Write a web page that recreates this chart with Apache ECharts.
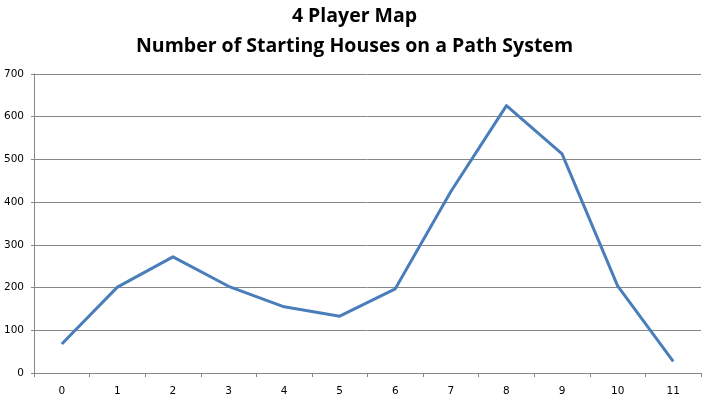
<!DOCTYPE html>
<html><head><meta charset="utf-8">
<script src="https://cdn.jsdelivr.net/npm/echarts@6/dist/echarts.min.js"></script>
<style>html,body{margin:0;padding:0;background:#fff}#c{width:709px;height:404px}</style>
</head><body><div id="c"></div>
<script>
const categories = ['0','1','2','3','4','5','6','7','8','9','10','11'];
const houses = [68, 201, 272, 203, 155, 133, 197, 425, 626, 513, 204, 27];
const titleLines = ['4 Player Map', 'Number of Starting Houses on a Path System'];

const chart = echarts.init(document.getElementById('c'), null, {renderer: 'canvas'});
chart.setOption({
  animation: false,
  backgroundColor: '#fff',
  title: {
    text: titleLines.join('\n'),
    left: 'center', top: 0, padding: [1, 5],
    textStyle: {fontFamily: 'Open Sans', fontWeight: 'bold', fontSize: 19.5, color: '#000', lineHeight: 30}
  },
  grid: {left: 34, right: 8, top: 74, bottom: 31},
  xAxis: {
    type: 'category', data: categories, boundaryGap: true,
    axisLine: {lineStyle: {color: '#868686', width: 1}},
    axisTick: {show: true, length: 4, lineStyle: {color: '#868686'}},
    axisLabel: {color: '#000', fontFamily: 'DejaVu Sans', fontSize: 10.5, margin: 13}
  },
  yAxis: {
    type: 'value', min: 0, max: 700, interval: 100,
    axisLine: {show: true, lineStyle: {color: '#868686', width: 1}},
    axisTick: {show: true, length: 3, lineStyle: {color: '#868686'}},
    axisLabel: {color: '#000', fontFamily: 'DejaVu Sans', fontSize: 10.5, margin: 10},
    splitLine: {lineStyle: {color: '#868686', width: 1}}
  },
  series: [{
    type: 'line', data: houses, symbol: 'none',
    lineStyle: {color: '#4a7ebb', width: 3, join: 'round'}
  }]
});
</script></body></html>
